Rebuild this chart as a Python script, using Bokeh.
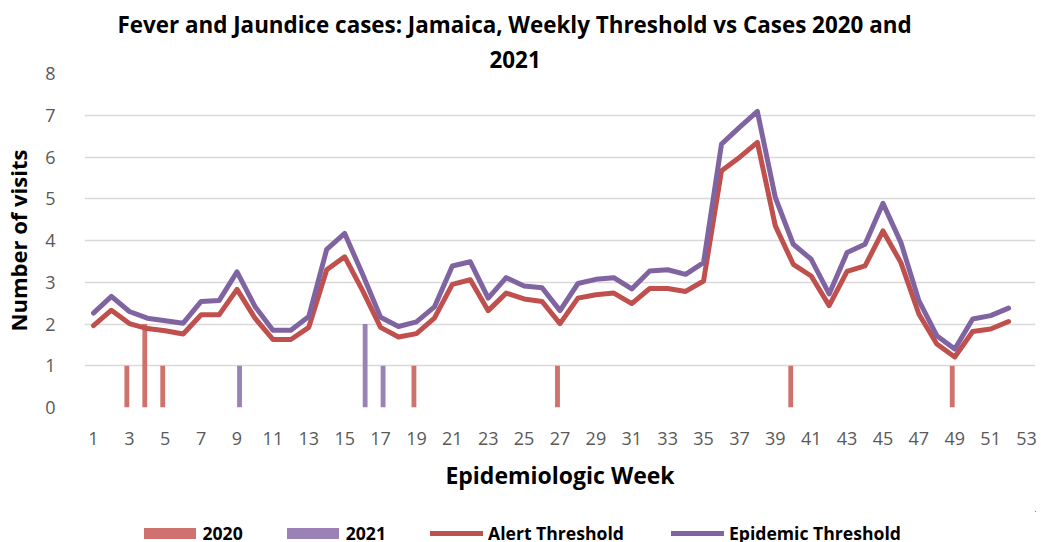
from bokeh.plotting import figure
from bokeh.layouts import column
from bokeh.models import (ColumnDataSource, FixedTicker, Legend, LegendItem, Title, Range1d)
from bokeh.transform import dodge
from bokeh.embed import file_html
from bokeh.resources import INLINE

# ---------------- data ----------------
weeks = list(range(1, 54))
tick_weeks = list(range(1, 54, 2))
y_ticks = [0, 1, 2, 3, 4, 5, 6, 7, 8]

cases_2020 = [0, 0, 1, 2, 1, 0, 0, 0, 0, 0, 0, 0, 0, 0, 0, 0, 0, 0, 1, 0,
              0, 0, 0, 0, 0, 0, 1, 0, 0, 0, 0, 0, 0, 0, 0, 0, 0, 0, 0, 1,
              0, 0, 0, 0, 0, 0, 0, 0, 1, 0, 0, 0, 0]
cases_2021 = [0, 0, 0, 0, 0, 0, 0, 0, 1, 0, 0, 0, 0, 0, 0, 2, 1, 0, 0, 0,
              0, 0, 0, 0, 0, 0, 0, 0, 0, 0, 0, 0, 0, 0, 0, 0, 0, 0, 0, 0,
              0, 0, 0, 0, 0, 0, 0, 0, 0, 0, 0, 0, 0]

threshold_weeks = list(range(1, 53))
alert_threshold = [1.96, 2.33, 2.01, 1.89, 1.84, 1.76, 2.22, 2.22, 2.83, 2.14,
                   1.63, 1.63, 1.92, 3.30, 3.61, 2.80, 1.92, 1.69, 1.77, 2.14,
                   2.95, 3.06, 2.32, 2.74, 2.60, 2.54, 2.01, 2.62, 2.70, 2.74,
                   2.49, 2.85, 2.85, 2.78, 3.03, 5.67, 5.99, 6.35, 4.35, 3.43,
                   3.15, 2.44, 3.26, 3.39, 4.23, 3.47, 2.24, 1.52, 1.21, 1.82,
                   1.88, 2.06]
epidemic_threshold = [2.26, 2.66, 2.30, 2.14, 2.08, 2.02, 2.54, 2.56, 3.25, 2.42,
                      1.85, 1.85, 2.18, 3.79, 4.17, 3.19, 2.16, 1.94, 2.05, 2.41,
                      3.39, 3.49, 2.62, 3.11, 2.91, 2.87, 2.32, 2.97, 3.07, 3.11,
                      2.84, 3.27, 3.30, 3.19, 3.47, 6.31, 6.71, 7.09, 5.03, 3.91,
                      3.55, 2.72, 3.71, 3.91, 4.89, 3.95, 2.56, 1.72, 1.40, 2.12,
                      2.20, 2.38]

title_line1 = "Fever and Jaundice cases: Jamaica, Weekly Threshold vs Cases 2020 and"
title_line2 = "2021"

C2020, C2021, CALERT, CEPI = "#CF726E", "#9B82B6", "#C0504D", "#8064A2"

bars = ColumnDataSource(dict(week=weeks, c2020=cases_2020, c2021=cases_2021))
lines = ColumnDataSource(dict(week=threshold_weeks, alert=alert_threshold,
                              epidemic=epidemic_threshold))

# ---------------- main figure ----------------
p = figure(width=1041, height=511, output_backend="svg", toolbar_location=None,
           x_range=Range1d(0.5, 53.5), y_range=Range1d(0, 8),
           min_border_left=76, min_border_right=6, min_border_top=73,
           min_border_bottom=104)
p.title.visible = False
p.outline_line_color = None
p.background_fill_color = "white"
p.border_fill_color = "white"

p.vbar(x=dodge("week", -0.14, range=p.x_range), top="c2020", width=0.27,
       source=bars, fill_color=C2020, line_color=None)
p.vbar(x=dodge("week", 0.14, range=p.x_range), top="c2021", width=0.27,
       source=bars, fill_color=C2021, line_color=None)
p.line(x="week", y="alert", source=lines, line_color=CALERT,
       line_width=5, line_join="round", line_cap="round")
p.line(x="week", y="epidemic", source=lines, line_color=CEPI,
       line_width=5, line_join="round", line_cap="round")

p.xaxis.ticker = FixedTicker(ticks=tick_weeks)
p.yaxis.ticker = FixedTicker(ticks=y_ticks)
for ax in (p.xaxis[0], p.yaxis[0]):
    ax.axis_line_color = None
    ax.major_tick_line_color = None
    ax.minor_tick_line_color = None
    ax.major_label_text_font = "Open Sans"
    ax.major_label_text_font_size = "18px"
    ax.major_label_text_color = "#595959"
    ax.axis_label_text_font = "Open Sans"
    ax.axis_label_text_font_style = "bold"
    ax.axis_label_text_color = "#000000"
p.xaxis.major_label_standoff = 18
p.yaxis.major_label_standoff = 23
p.xaxis.axis_label = "Epidemiologic Week"
p.yaxis.axis_label = "Number of visits"
p.xaxis.axis_label_text_font_size = "23px"
p.yaxis.axis_label_text_font_size = "22px"
p.xaxis.axis_label_standoff = 11
p.yaxis.axis_label_standoff = 9

p.xgrid.grid_line_color = None
p.ygrid.grid_line_color = "#D9D9D9"
p.ygrid.grid_line_width = 1.5

for txt, off, so in ((title_line2, 405, 11), (title_line1, 33, 8)):
    p.add_layout(Title(text=txt, align="left", offset=off,
                       text_font="Open Sans", text_font_style="bold",
                       text_font_size="22.4px", text_color="#000000",
                       standoff=so), "above")

# ---------------- legend strip ----------------
lg = figure(width=1041, height=31, output_backend="svg", toolbar_location=None,
            x_axis_type=None, y_axis_type=None, min_border=0, title=None,
            x_range=Range1d(-20, -19), y_range=Range1d(-20, -19))
lg.outline_line_color = None
lg.background_fill_color = "white"
lg.border_fill_color = "white"
l2020 = lg.vbar(x="week", top="c2020", width=0.27, source=bars,
                fill_color=C2020, line_color=None)
l2021 = lg.vbar(x="week", top="c2021", width=0.27, source=bars,
                fill_color=C2021, line_color=None)
lalert = lg.line(x="week", y="alert", source=lines, line_color=CALERT,
                 line_width=5, line_cap="round")
lepi = lg.line(x="week", y="epidemic", source=lines, line_color=CEPI,
               line_width=5, line_cap="round")

common = dict(orientation="horizontal", padding=0, margin=0,
              border_line_color=None, background_fill_alpha=0,
              label_text_font="Open Sans", label_text_font_style="bold",
              label_text_font_size="17.6px", label_text_color="#000000",
              glyph_height=14)
leg_a = Legend(items=[LegendItem(label="2020", renderers=[l2020]),
                      LegendItem(label="2021", renderers=[l2021])],
               location=(52.5, -3.25), glyph_width=65, label_standoff=1,
               spacing=37, **common)
leg_b = Legend(items=[LegendItem(label="Alert Threshold", renderers=[lalert]),
                      LegendItem(label="Epidemic Threshold", renderers=[lepi])],
               location=(346, -3.25), glyph_width=53, label_standoff=5,
               spacing=47, **common)
lg.add_layout(leg_a, "center")
lg.add_layout(leg_b, "center")

open("out.html", "w").write(file_html(column(p, lg, spacing=0), INLINE))
